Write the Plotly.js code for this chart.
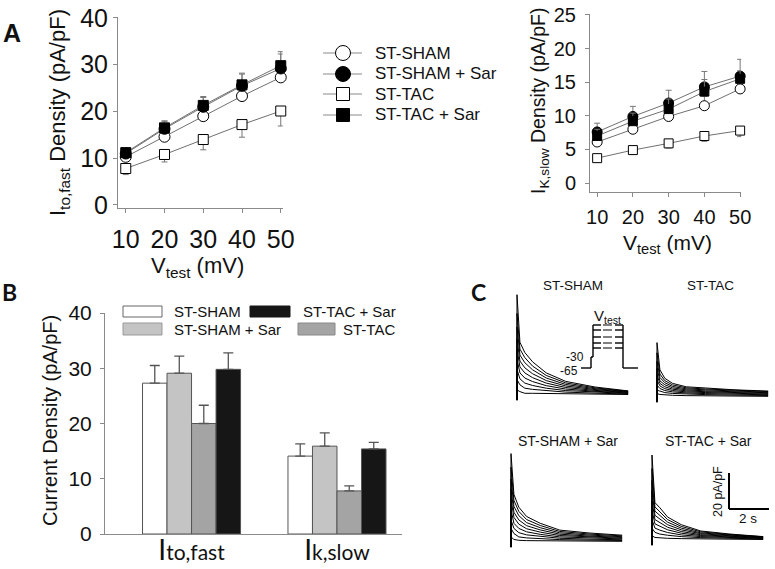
<!DOCTYPE html>
<html><head><meta charset="utf-8">
<script src="https://cdn.plot.ly/plotly-3.0.1.min.js"></script>
<style>html,body{margin:0;padding:0;background:#fff}#chart{width:775px;height:569px}</style>
</head><body><div id="chart"></div>
<script>
// ---------- Panel A data (Vtest in mV, density in pA/pF) ----------
const vtest = [10, 20, 30, 40, 50];
const fastSham       = [10.3, 14.6, 19.0, 23.3, 27.3];
const fastShamErr    = [0.8, 1.4, 1.8, 2.2, 3.2];
const fastShamSar    = [11.0, 16.3, 21.0, 25.5, 29.2];
const fastShamSarErr = [0.9, 1.6, 2.0, 2.5, 3.1];
const fastTac        = [7.8, 10.8, 14.0, 17.2, 20.1];
const fastTacErr     = [1.3, 1.6, 2.2, 2.7, 3.2];
const fastTacSar     = [11.2, 16.5, 21.3, 25.7, 29.8];
const fastTacSarErr  = [0.9, 1.5, 1.9, 2.5, 3.0];

const slowSham       = [6.1, 8.0, 9.9, 11.5, 14.0];
const slowShamErr    = [0.7, 0.9, 1.1, 1.4, 2.2];
const slowShamSar    = [7.6, 9.9, 11.9, 14.3, 15.9];
const slowShamSarErr = [1.3, 1.5, 1.9, 2.3, 2.5];
const slowTac        = [3.7, 4.9, 5.9, 7.0, 7.8];
const slowTacErr     = [0.6, 0.6, 0.7, 0.8, 0.9];
const slowTacSar     = [7.0, 9.2, 11.0, 13.6, 15.5];
const slowTacSarErr  = [1.0, 1.2, 1.5, 1.8, 1.2];

const groupNames = ['ST-SHAM', 'ST-SHAM + Sar', 'ST-TAC', 'ST-TAC + Sar'];

// ---------- Panel B data ----------
const currents = ['Ito,fast', 'Ik,slow'];
const currentLabels = ['<span style="font-size:28px">I</span>to,fast', '<span style="font-size:28px">I</span>k,slow'];
const barSham       = [27.3, 14.1];
const barShamErr    = [3.2, 2.2];
const barShamSar    = [29.1, 15.9];
const barShamSarErr = [3.1, 2.4];
const barTac        = [20.0, 7.8];
const barTacErr     = [3.3, 0.9];
const barTacSar     = [29.8, 15.4];
const barTacSarErr  = [3.0, 1.2];

// ---------- Panel C data (time in s; current in pA/pF above baseline) ----------
const traceTime = [0, 0, 0.15, 0.4, 0.8, 1.5, 2.5, 4, 5.7];
const artifact = -3;
// each row: peak, then values at 0.15, 0.4, 0.8, 1.5, 2.5, 4, 5.7 s
const tracesSham = [
  [59, 31, 25, 19.5, 13, 8, 4.7, 2.4],
  [48, 27, 22, 17, 11.5, 7.1, 4.2, 2.2],
  [40, 23.5, 19, 14.8, 10, 6.2, 3.7, 2.0],
  [33, 20, 16, 12.5, 8.5, 5.3, 3.2, 1.7],
  [27, 16.5, 13, 10.2, 7, 4.4, 2.7, 1.5],
  [21, 13, 10, 7.9, 5.5, 3.5, 2.2, 1.2],
  [15, 9.5, 7, 5.6, 4, 2.6, 1.6, 0.9],
  [9, 6, 4, 3.3, 2.5, 1.7, 1.1, 0.6],
  [3, 2, 1, 1, 0.9, 0.7, 0.5, 0.3]
];
const tracesTac = [
  [32, 16, 11, 8, 6, 5.3, 4.2, 3.5],
  [26, 13.5, 9.6, 7.1, 5.4, 4.7, 3.8, 3.2],
  [21, 11.5, 8.4, 6.2, 4.8, 4.2, 3.4, 2.8],
  [17, 9.5, 7.2, 5.4, 4.2, 3.6, 3.0, 2.5],
  [13, 8, 6, 4.6, 3.6, 3.1, 2.6, 2.1],
  [10, 6.5, 4.9, 3.8, 3.0, 2.6, 2.1, 1.7],
  [7, 5, 3.8, 3.0, 2.4, 2.0, 1.6, 1.3],
  [4, 3.5, 2.6, 2.1, 1.7, 1.4, 1.1, 0.9],
  [2, 1.5, 1.2, 1.0, 0.8, 0.6, 0.5, 0.4]
];
const tracesShamSar = [
  [52, 28, 20.5, 15, 11, 7, 5.3, 4],
  [44, 24.5, 18, 13.2, 9.7, 6.2, 4.7, 3.6],
  [37, 21, 15.5, 11.4, 8.4, 5.4, 4.1, 3.1],
  [31, 17.5, 13, 9.6, 7.1, 4.6, 3.5, 2.7],
  [25, 14.5, 10.5, 7.8, 5.8, 3.8, 2.9, 2.2],
  [19, 11, 8, 6, 4.5, 3, 2.3, 1.8],
  [13, 8, 5.5, 4.2, 3.2, 2.2, 1.7, 1.3],
  [8, 5, 3, 2.4, 1.9, 1.4, 1.1, 0.9],
  [3, 1.5, 1, 0.8, 0.7, 0.6, 0.5, 0.4]
];
const tracesTacSar = [
  [50, 22, 19, 13.5, 9, 5.3, 3.5, 2],
  [42, 19.5, 16.8, 12, 8, 4.8, 3.2, 1.9],
  [35, 17, 14.6, 10.5, 7, 4.2, 2.9, 1.7],
  [29, 14.5, 12.4, 9, 6, 3.7, 2.5, 1.5],
  [23, 12, 10.2, 7.5, 5, 3.1, 2.2, 1.3],
  [17.5, 9.5, 8, 6, 4, 2.6, 1.8, 1.1],
  [12, 7, 5.8, 4.4, 3, 2, 1.4, 0.9],
  [7, 4.5, 3.5, 2.8, 2, 1.4, 1, 0.6],
  [2.5, 1.5, 1.2, 1, 0.8, 0.6, 0.5, 0.3]
];

// ---------- helpers ----------
const W = 775, H = 569;
const P = x => x / W, Q = y => 1 - y / H;
const ARIAL = 'Arial, Liberation Sans, sans-serif';
const CALIBRI = 'Lato, Open Sans, sans-serif';
const zeros = a => a.map(() => 0);

const data = [];

function scatterA(y, err, dir, symbol, filled, xa, ya, size) {
  return {
    type: 'scatter', mode: 'lines+markers', x: vtest, y: y, xaxis: xa, yaxis: ya,
    line: {color: '#707070', width: 1},
    marker: {symbol: symbol, size: size, color: filled ? '#000' : '#fff', line: {color: '#000', width: 1}},
    error_y: {type: 'data', symmetric: false,
      array: dir > 0 ? err : zeros(err), arrayminus: dir < 0 ? err : zeros(err),
      color: '#777', thickness: 1, width: 3},
    hoverinfo: 'skip', showlegend: false, cliponaxis: false
  };
}
// Left A
data.push(scatterA(fastSham, fastShamErr, 1, 'circle', false, 'x', 'y', 11));
data.push(scatterA(fastTac, fastTacErr, -1, 'square', false, 'x', 'y', 10));
data.push(scatterA(fastShamSar, fastShamSarErr, 1, 'circle', true, 'x', 'y', 11));
data.push(scatterA(fastTacSar, fastTacSarErr, 1, 'square', true, 'x', 'y', 10));
// Right A
data.push(scatterA(slowSham, slowShamErr, 1, 'circle', false, 'x2', 'y2', 10));
data.push(scatterA(slowTac, slowTacErr, -1, 'square', false, 'x2', 'y2', 9));
data.push(scatterA(slowShamSar, slowShamSarErr, 1, 'circle', true, 'x2', 'y2', 10));
data.push(scatterA(slowTacSar, slowTacSarErr, 1, 'square', true, 'x2', 'y2', 9));

// Panel B bars
const barSets = [
  [barSham, barShamErr, '#ffffff'],
  [barShamSar, barShamSarErr, '#c4c4c4'],
  [barTac, barTacErr, '#a4a4a4'],
  [barTacSar, barTacSarErr, '#161616']
];
barSets.forEach((b, i) => {
  data.push({
    type: 'bar', x: currents, y: b[0], name: groupNames[i], xaxis: 'x3', yaxis: 'y3',
    marker: {color: b[2], line: {color: '#555', width: 1}},
    error_y: {type: 'data', symmetric: false, array: b[1], arrayminus: zeros(b[1]),
      color: '#555', thickness: 1.3, width: 5},
    hoverinfo: 'skip', showlegend: false
  });
});

// Panel C traces
const cSets = [[tracesSham, 'x4', 'y4'], [tracesTac, 'x5', 'y5'], [tracesShamSar, 'x6', 'y6'], [tracesTacSar, 'x7', 'y7']];
cSets.forEach(s => {
  s[0].forEach(row => {
    data.push({
      type: 'scatter', mode: 'lines', x: traceTime, y: [artifact].concat(row),
      xaxis: s[1], yaxis: s[2], line: {color: '#000', width: 1},
      hoverinfo: 'skip', showlegend: false
    });
  });
});

// ---------- layout ----------
const axBase = {showgrid: false, zeroline: false, showline: true, linecolor: '#8a8a8a', linewidth: 1,
  ticks: 'outside', ticklen: 4, tickcolor: '#8a8a8a', fixedrange: true};

const layout = {
  width: W, height: H, margin: {l: 0, r: 0, t: 0, b: 0},
  font: {family: ARIAL},
  paper_bgcolor: '#fff', plot_bgcolor: 'rgba(0,0,0,0)', showlegend: false,
  barmode: 'group', bargap: 0.326, bargroupgap: 0,
  xaxis: Object.assign({}, axBase, {domain: [P(118), P(282.7)], range: [8, 50.5], tickvals: vtest,
    tickfont: {family: ARIAL, size: 25, color: '#111'}, ticklabelstandoff: 5, anchor: 'y'}),
  yaxis: Object.assign({}, axBase, {domain: [Q(208), Q(17.06)], range: [-0.65, 40.2], tickvals: [0, 10, 20, 30, 40],
    tickfont: {family: ARIAL, size: 25, color: '#111'}, anchor: 'x'}),
  xaxis2: Object.assign({}, axBase, {domain: [P(590), P(741.2)], range: [8, 50.3], tickvals: vtest,
    tickfont: {family: ARIAL, size: 20, color: '#111'}, ticklabelstandoff: 3, anchor: 'y2'}),
  yaxis2: Object.assign({}, axBase, {domain: [Q(192.1), Q(14.3)], range: [-1.35, 25.1], tickvals: [0, 5, 10, 15, 20, 25],
    tickfont: {family: ARIAL, size: 20, color: '#111'}, ticklabelstandoff: 5, anchor: 'x2'}),
  xaxis3: Object.assign({}, axBase, {domain: [P(105), P(402)], type: 'category', range: [-0.595, 1.447],
    ticks: '', tickvals: currents, ticktext: currentLabels,
    tickfont: {family: CALIBRI, size: 21, color: '#111'}, ticklabelstandoff: 0, anchor: 'y3'}),
  yaxis3: Object.assign({}, axBase, {domain: [Q(534), Q(313)], range: [0, 40], tickvals: [0, 10, 20, 30, 40],
    tickfont: {family: ARIAL, size: 21, color: '#111'}, ticklabelstandoff: 4, anchor: 'x3'}),
  annotations: [],
  shapes: []
};
const cDom = [
  [513.1, 630.1, 403.5, 293],
  [653.1, 770.1, 405.5, 295],
  [507.1, 624.1, 550.5, 440],
  [648.1, 765.1, 548.5, 438]
];
cDom.forEach((d, i) => {
  const n = i + 4;
  layout['xaxis' + n] = {domain: [P(d[0]), P(d[1])], range: [-0.2, 5.8], visible: false, fixedrange: true, anchor: 'y' + n};
  layout['yaxis' + n] = {domain: [Q(d[2]), Q(d[3])], range: [-5, 60], visible: false, fixedrange: true, anchor: 'x' + n};
});

// annotations
function ann(text, x, y, size, opts) {
  layout.annotations.push(Object.assign({
    text: text, x: P(x), y: Q(y), xref: 'paper', yref: 'paper', showarrow: false,
    xanchor: 'center', yanchor: 'middle', font: {family: ARIAL, size: size, color: '#111'}
  }, opts || {}));
}
ann('<b>A</b>', 12, 33, 25);
ann('<b>B</b>', 9, 292, 23, {font: {family: CALIBRI, size: 23, color: '#111'}});
ann('<b>C</b>', 478, 292, 23, {font: {family: CALIBRI, size: 23, color: '#111'}});
ann('I<sub>to,fast</sub> Density (pA/pF)', 59, 113, 22, {textangle: -90});
ann('V<sub>test</sub> (mV)', 197, 267, 22);
ann('I<sub>K,slow</sub> Density (pA/pF)', 540, 101, 19.5, {textangle: -90});
ann('V<sub>test</sub> (mV)', 667, 244, 21);
ann('Current Density (pA/pF)', 50, 421, 20, {textangle: -90});

// Legend A
const legRows = [53, 74, 94, 115];
const legSyms = [['circle', false], ['circle', true], ['square', false], ['square', true]];
legRows.forEach((ry, i) => {
  layout.shapes.push({type: 'line', xref: 'paper', yref: 'paper', x0: P(323), x1: P(362), y0: Q(ry), y1: Q(ry),
    line: {color: '#8a8a8a', width: 1.2}});
  const r = legSyms[i][0] === 'circle' ? 7.5 : 6.5;
  layout.shapes.push({type: legSyms[i][0] === 'circle' ? 'circle' : 'rect', xref: 'paper', yref: 'paper',
    x0: P(343 - r), x1: P(343 + r), y0: Q(ry + r), y1: Q(ry - r),
    fillcolor: legSyms[i][1] ? '#000' : '#fff', line: {color: '#000', width: 1}});
  ann(groupNames[i], 373, ry, 17, {xanchor: 'left'});
});

// Legend B
const legB = [
  [123, 162, 306, 317, '#ffffff', '#666', 'ST-SHAM', 172, 'left'],
  [250, 290, 306, 317, '#161616', '#161616', 'ST-TAC + Sar', 398, 'right'],
  [123, 162, 323, 335, '#c4c4c4', '#999', 'ST-SHAM + Sar', 172, 'left'],
  [298, 335, 323, 335, '#a4a4a4', '#888', 'ST-TAC', 397, 'right']
];
legB.forEach(l => {
  layout.shapes.push({type: 'rect', xref: 'paper', yref: 'paper', x0: P(l[0]), x1: P(l[1]), y0: Q(l[3]), y1: Q(l[2]),
    fillcolor: l[4], line: {color: l[5], width: 1}});
  ann(l[6], l[7], (l[2] + l[3]) / 2, 15, {xanchor: l[8]});
});

// Panel C labels
ann('ST-SHAM', 573, 285, 13.5);
ann('ST-TAC', 710, 285, 13.5);
ann('ST-SHAM + Sar', 568, 441, 14);
ann('ST-TAC + Sar', 708, 441, 14);
ann('V<sub>test</sub>', 607, 316, 15);
ann('-30', 586, 356.5, 12, {xanchor: 'right'});
ann('-65', 580, 371, 12, {xanchor: 'right'});
ann('20 pA/pF', 718, 492, 12.5, {textangle: -90});
ann('2 s', 748, 518, 13.5);

// Voltage protocol + scale bar
function seg(x0, y0, x1, y1, w, dash) {
  layout.shapes.push({type: 'line', xref: 'paper', yref: 'paper', x0: P(x0), y0: Q(y0), x1: P(x1), y1: Q(y1),
    line: {color: '#000', width: w, dash: dash || 'solid'}});
}
seg(581, 368, 591, 368, 1.4);
seg(591, 368, 591, 357, 1.4);
seg(591, 357, 593, 357, 1.4);
seg(593, 357, 593, 325, 1.4);
[325, 330, 337, 343, 348].forEach(ly => {
  seg(593, ly, 601, ly, 1.4);
  seg(603, ly, 613, ly, 1, 'dash');
  seg(615, ly, 623, ly, 1.4);
});
seg(623, 325, 623, 368, 1.4);
seg(623, 368, 638, 368, 1.4);
seg(729, 473, 729, 509, 2);
seg(729, 509, 769, 509, 2);

Plotly.newPlot('chart', data, layout, {displayModeBar: false, staticPlot: true});
</script>
</body></html>
